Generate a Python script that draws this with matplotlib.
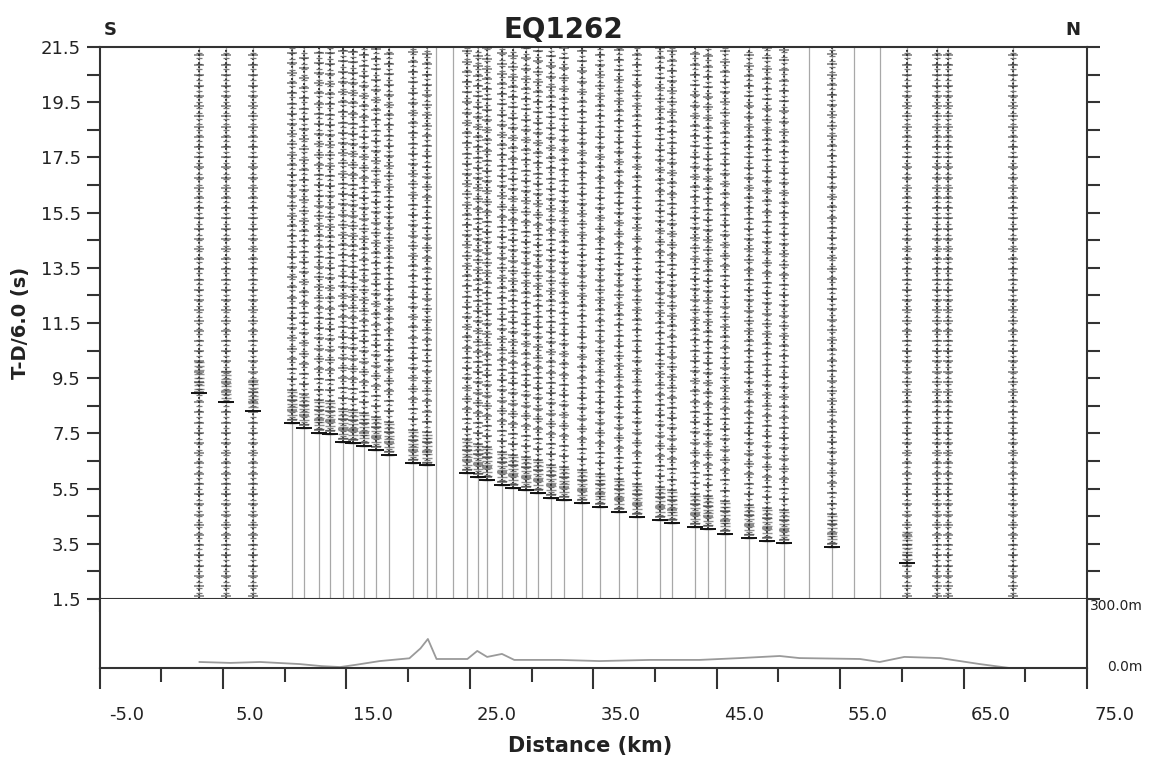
import matplotlib
matplotlib.use("Agg")
import matplotlib.pyplot as plt
import matplotlib.transforms as mtransforms
import numpy as np

# station offsets along the line (km)
trace_dist = [3.06, 5.24, 7.43, 10.59, 11.56, 12.77, 13.66, 14.72, 15.53, 16.42,
              17.39, 18.44, 20.38, 21.52, 22.25, 23.62, 24.76, 25.65, 26.38, 27.59,
              28.48, 29.53, 30.51, 31.56, 32.61, 34.07, 35.53, 37.06, 38.52, 40.38,
              41.36, 43.22, 44.27, 45.65, 47.59, 49.05, 50.43, 52.45, 54.31, 56.09,
              58.20, 60.39, 62.81, 63.70, 68.97]
# first-arrival picks in reduced time (s), nan where nothing was picked
pick_time = [8.96, 8.64, 8.31, 7.88, 7.70, 7.51, 7.48, 7.19, 7.15, 7.04,
             6.90, 6.72, 6.43, 6.34, np.nan, np.nan, 6.07, 5.92, 5.81, 5.63,
             5.52, 5.45, 5.34, 5.16, 5.09, 4.98, 4.83, 4.65, 4.47, 4.36,
             4.25, 4.11, 4.04, 3.85, 3.71, 3.60, 3.53, np.nan, 3.38, np.nan,
             np.nan, 2.80, np.nan, np.nan, np.nan]
# where the plotted waveform begins (s), nan for dead channels
signal_start = [1.5, 1.5, 1.5, 7.88, 7.70, 7.51, 7.48, 7.19, 7.15, 7.04,
                6.90, 6.72, 6.43, 6.34, np.nan, np.nan, 6.07, 5.92, 5.81, 5.63,
                5.52, 5.45, 5.34, 5.16, 5.09, 4.98, 4.83, 4.65, 4.47, 4.36,
                4.25, 4.11, 4.04, 3.85, 3.71, 3.60, 3.53, np.nan, 3.38, np.nan,
                np.nan, 1.5, 1.5, 1.5, 1.5]

# topography along the line
elev_dist = [3.1, 5.6, 8.0, 11.2, 13.0, 14.5, 15.8, 17.7, 20.1, 21.0, 21.6, 22.3,
             24.8, 25.6, 26.4, 27.6, 28.6, 32.3, 35.5, 39.6, 43.6, 46.9, 50.1,
             51.7, 56.6, 58.2, 60.2, 63.1, 66.3, 68.7]
elev_m = [26, 22, 26, 17, 8, 4, 14, 30, 42, 85, 126, 39,
          39, 74, 48, 61, 35, 35, 30, 35, 35, 43, 52,
          43, 39, 26, 48, 43, 17, 0]

t_min, t_max = 1.5, 21.5
x_min, x_max = -5, 75
ink = '#333333'

fig = plt.figure(figsize=(11.64, 7.62), dpi=100)
ax = fig.add_axes([0.0855, 0.2139, 0.8484, 0.7244])
ax2 = fig.add_axes([0.0855, 0.1234, 0.8484, 0.0906])

# record section
for d, tp, ts in zip(trace_dist, pick_time, signal_start):
    ax.vlines(d, t_min, t_max, color='#a8a8a8', lw=0.9, zorder=1)
    if np.isnan(ts):
        continue
    ax.vlines(d, ts, t_max, color='#333333', lw=1.4, linestyles=(0, (1.0, 1.1)), zorder=2)
    s1 = np.arange(ts, t_max, 0.2)
    ax.plot(np.full_like(s1, d), s1, ls='none', marker='_', ms=4.5, mew=0.9,
            color='#777777', zorder=3)
    s2 = np.arange(ts + 0.1, t_max, 0.37)
    ax.plot(np.full_like(s2, d), s2, ls='none', marker='_', ms=6.5, mew=1.1,
            color='#222222', alpha=0.6, zorder=3)
    if not np.isnan(tp):
        coda = np.arange(tp, min(tp + 1.2, t_max), 0.14)
        ax.plot(np.full_like(coda, d), coda, ls='none', marker='_', ms=7, mew=1.0,
                color='#222222', alpha=0.5, zorder=4)
        ax.plot([d], [tp], ls='none', marker='_', ms=12, mew=1.4, color='#111111', zorder=5)

ax.set_xlim(x_min, x_max)
ax.set_ylim(t_min, t_max)
ax.set_yticks(np.arange(1.5, 21.6, 2.0))
ax.set_yticks(np.arange(2.5, 21.0, 2.0), minor=True)
ax.set_yticklabels([f"{v:.1f}" for v in np.arange(1.5, 21.6, 2.0)])
ax.set_xticks(np.arange(-5, 76, 5))
ax.tick_params(axis='x', direction='out', length=9.5, width=1.5, color=ink,
               labelbottom=False)
ax.tick_params(axis='y', which='both', direction='out', length=9.5, width=1.5,
               color=ink, left=True, right=True, labelsize=13, pad=4,
               labelcolor='#222222')
for side in ['top', 'bottom', 'left', 'right']:
    ax.spines[side].set_color(ink)
    ax.spines[side].set_linewidth(1.5)
ax.set_ylabel('T-D/6.0 (s)', fontsize=14, fontweight='bold', color='#222222', labelpad=8)

# elevation strip
ax2.plot(elev_dist, elev_m, color='#9a9a9a', lw=1.3)
ax2.set_xlim(x_min, x_max)
ax2.set_ylim(0, 300)
ax2.set_yticks([])
ax2.set_xticks(np.arange(-5, 76, 10))
ax2.set_xticks(np.arange(0, 71, 10), minor=True)
ax2.tick_params(axis='x', which='major', direction='out', length=15, width=1.5,
                color=ink, labelbottom=False)
ax2.tick_params(axis='x', which='minor', direction='out', length=10, width=1.5, color=ink)
ax2.spines['top'].set_visible(False)
for side in ['bottom', 'left', 'right']:
    ax2.spines[side].set_color(ink)
    ax2.spines[side].set_linewidth(1.5)

shift = mtransforms.ScaledTranslation(0.27, 0, fig.dpi_scale_trans)
lab_tr = mtransforms.blended_transform_factory(ax2.transData, ax2.transAxes) + shift
for v in np.arange(-5, 76, 10):
    ax2.text(v, -0.68, f"{v:.1f}", transform=lab_tr, ha='center', va='center',
             fontsize=13, color='#222222')

ax2.text(1.056, 0.9, '300.0m', transform=ax2.transAxes, ha='right', va='center',
         fontsize=10, color='#222222')
ax2.text(1.056, 0.02, '0.0m', transform=ax2.transAxes, ha='right', va='center',
         fontsize=10, color='#222222')

fig.text(0.507, 0.021, 'Distance (km)', ha='center', va='center', fontsize=15,
         fontweight='bold', color='#222222')
fig.text(0.4837, 0.961, 'EQ1262', ha='center', va='center', fontsize=20,
         fontweight='bold', color='#222222')
fig.text(0.0945, 0.961, 'S', ha='center', va='center', fontsize=13,
         fontweight='bold', color='#222222')
fig.text(0.9218, 0.961, 'N', ha='center', va='center', fontsize=13,
         fontweight='bold', color='#222222')

fig.savefig('out.png', dpi=100, facecolor='white')
